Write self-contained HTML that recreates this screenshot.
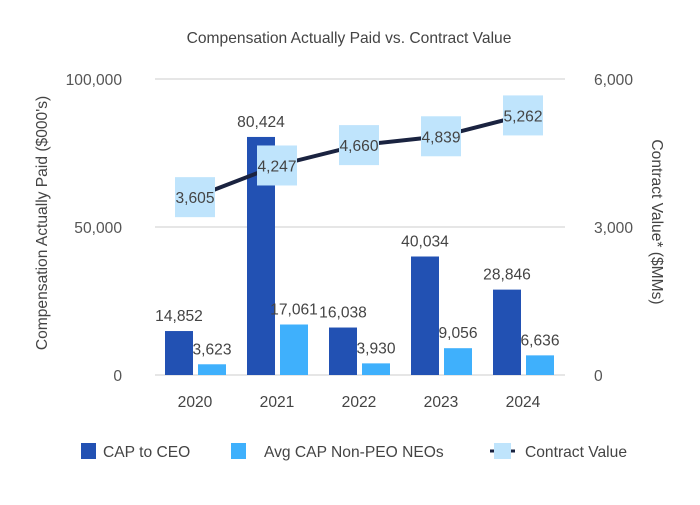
<!DOCTYPE html>
<html><head><meta charset="utf-8"><style>
body{margin:0;background:#fff;font-family:"Liberation Sans",sans-serif;}
svg text{font-family:"Liberation Sans",sans-serif;}
</style></head><body>
<svg id="c" width="700" height="500"></svg>
<script>
const categories=["2020","2021","2022","2023","2024"];
const ceoValues=[14852,80424,16038,40034,28846];
const neoValues=[3623,17061,3930,9056,6636];
const contractValues=[3605,4247,4660,4839,5262];
const leftTicks=[0,50000,100000];
const rightTicks=[0,3000,6000];
const ns="http://www.w3.org/2000/svg";
const svg=document.getElementById('c');
const X0=155,X1=565,Y0=375,Y1=79;
const FS=15.6;
const band=(X1-X0)/categories.length;
const cx=i=>X0+band*(i+0.5)-1;
const yL=v=>Y0-(v/100000)*(Y0-Y1);
const yR=v=>Y0-(v/6000)*(Y0-Y1);
const fmt=v=>v.toLocaleString('en-US');
function el(t,a,txt){const e=document.createElementNS(ns,t);for(const k in a)e.setAttribute(k,a[k]);if(txt!==undefined)e.textContent=txt;svg.appendChild(e);return e;}
let t=el('text',{x:349,y:43,'text-anchor':'middle','font-size':FS,fill:'#444'},'Compensation Actually Paid vs. Contract Value');


leftTicks.forEach((v,i)=>{
 const g=el('line',{x1:X0,x2:X1,y1:yL(v),y2:yL(v),stroke:'#ddd','stroke-width':1.5});
 
 
 const l=el('text',{x:122,y:yL(v)+6,'text-anchor':'end','font-size':FS,fill:'#555'},fmt(v));
 
 
});
rightTicks.forEach(v=>{
 const l=el('text',{x:594,y:yR(v)+6,'text-anchor':'start','font-size':FS,fill:'#555'},fmt(v));
 
 
});
t=el('text',{x:0,y:0,transform:'translate(47,223) rotate(-90)','text-anchor':'middle','font-size':FS,fill:'#444'},"Compensation Actually Paid ($000's)");


t=el('text',{x:0,y:0,transform:'translate(652,222) rotate(90)','text-anchor':'middle','font-size':FS,fill:'#444'},"Contract Value* ($MMs)");


const bw=28;
categories.forEach((c,i)=>{
 const x=cx(i);
 const b1=el('rect',{x:x-30,y:yL(ceoValues[i]),width:bw,height:Y0-yL(ceoValues[i]),fill:'#2251b3'});
 
 
 const b2=el('rect',{x:x+3,y:yL(neoValues[i]),width:bw,height:Y0-yL(neoValues[i]),fill:'#3fb0fc'});
 
 
 const l1=el('text',{x:x-16,y:yL(ceoValues[i])-10,'text-anchor':'middle','font-size':FS,fill:'#444'},fmt(ceoValues[i]));
 
 
 const l2=el('text',{x:x+17,y:yL(neoValues[i])-10,'text-anchor':'middle','font-size':FS,fill:'#444'},fmt(neoValues[i]));
 
 
 const xl=el('text',{x:x,y:407,'text-anchor':'middle','font-size':FS,fill:'#444'},c);
 
 
});
const pts=contractValues.map((v,i)=>cx(i)+','+yR(v)).join(' ');
const pl=el('polyline',{points:pts,fill:'none',stroke:'#1a2340','stroke-width':4});


contractValues.forEach((v,i)=>{
 const r=el('rect',{x:cx(i)-20,y:yR(v)-20,width:40,height:40,fill:'#bfe4fc'});
 
 
 const l=el('text',{x:cx(i),y:yR(v)+6,'text-anchor':'middle','font-size':FS,fill:'#444'},fmt(v));
 
 
});
// legend
let r=el('rect',{x:81,y:443,width:15,height:16,fill:'#2251b3'});


t=el('text',{x:103,y:457,'font-size':FS,fill:'#444'},'CAP to CEO');


r=el('rect',{x:231,y:443,width:15,height:16,fill:'#3fb0fc'});


t=el('text',{x:264,y:457,'font-size':FS,fill:'#444'},'Avg CAP Non-PEO NEOs');


let ll=el('line',{x1:490,x2:515,y1:451,y2:451,stroke:'#1a2340','stroke-width':3});


r=el('rect',{x:494,y:443,width:17,height:16,fill:'#bfe4fc'});


t=el('text',{x:525,y:457,'font-size':FS,fill:'#444'},'Contract Value');


</script>
</body></html>
